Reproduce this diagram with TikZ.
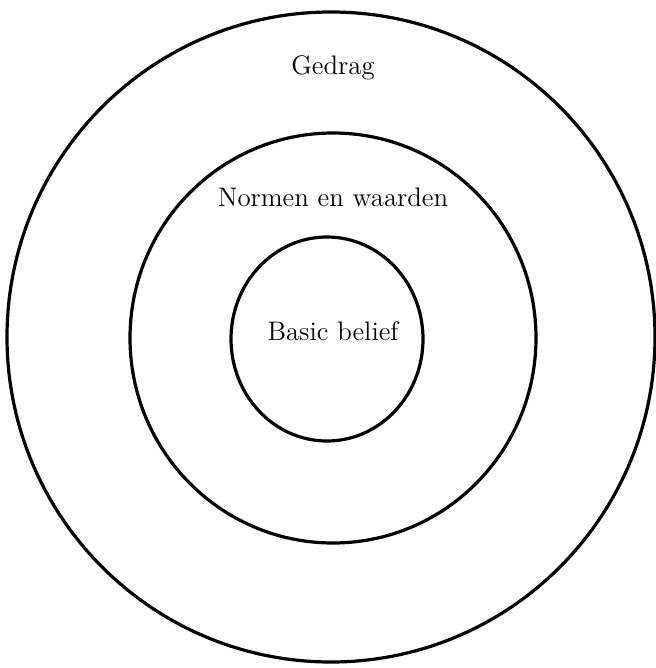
\documentclass[tikz,border=0pt]{standalone}
\usepackage{tikz}
\usetikzlibrary{shapes.geometric}

\begin{document}
\begin{tikzpicture}[
    x=0.5pt, y=-0.5pt,
    ring/.style={ellipse, draw, line width=1.6pt, inner sep=0pt},
    lbl/.style={font=\fontsize{13.4}{15}\selectfont}
]
    \useasboundingbox (0,0) rectangle (656,668);

    \node[ring, minimum width=324pt, minimum height=325pt] (gedragring) at (331,337) {};
    \node[ring, minimum width=203pt, minimum height=205pt] (normenring) at (333,338) {};
    \node[ring, minimum width=96pt, minimum height=102pt] (beliefring) at (327,339) {};

    \node[lbl] (gedrag) at (333,68) {Gedrag};
    \node[lbl] (normen) at (333,197) {Normen en waarden};
    \node[lbl] (belief) at (333,331) {Basic belief};
\end{tikzpicture}
\end{document}
